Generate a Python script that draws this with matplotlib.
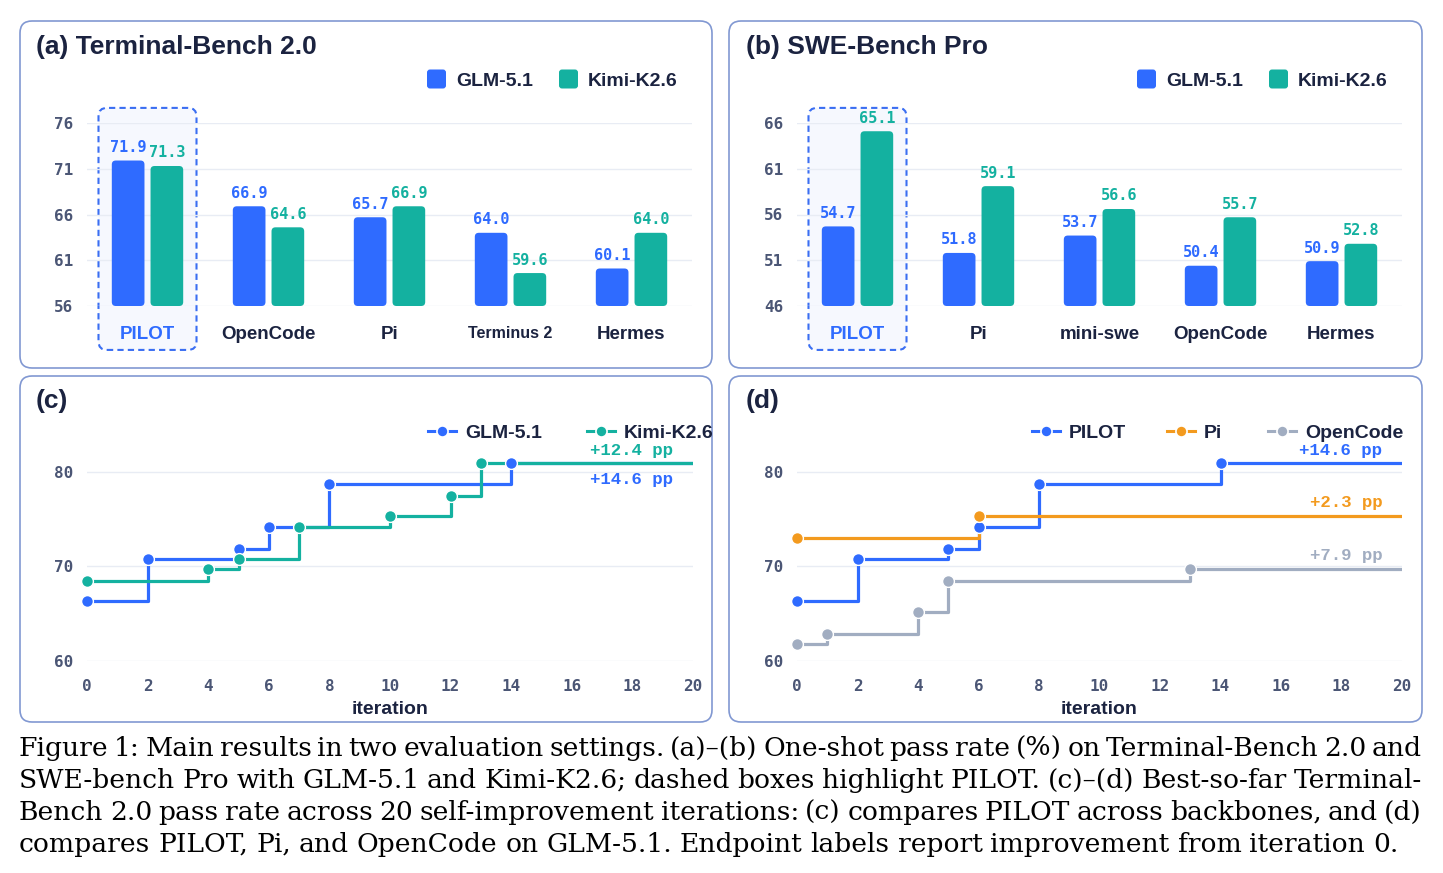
import numpy as np
import matplotlib
matplotlib.use("Agg")
import matplotlib.pyplot as plt
from matplotlib.patches import FancyBboxPatch
from matplotlib.lines import Line2D

# (a) Terminal-Bench 2.0, one-shot pass rate
tb_agents = ["PILOT", "OpenCode", "Pi", "Terminus 2", "Hermes"]
tb_glm = [71.9, 66.9, 65.7, 64.0, 60.1]
tb_kimi = [71.3, 64.6, 66.9, 59.6, 64.0]

# (b) SWE-Bench Pro
swe_agents = ["PILOT", "Pi", "mini-swe", "OpenCode", "Hermes"]
swe_glm = [54.7, 51.8, 53.7, 50.4, 50.9]
swe_kimi = [65.1, 59.1, 56.6, 55.7, 52.8]

# (c)/(d) best-so-far, only the iterations where it improved
n_iter = 20
glm_it = [0, 2, 5, 6, 8, 14]
glm_best = [66.3, 70.8, 71.9, 74.2, 78.7, 80.9]
kimi_it = [0, 4, 5, 7, 10, 12, 13]
kimi_best = [68.5, 69.7, 70.8, 74.2, 75.3, 77.5, 80.9]
pi_it = [0, 6]
pi_best = [73.0, 75.3]
oc_it = [0, 1, 4, 5, 13]
oc_best = [61.8, 62.9, 65.2, 68.5, 69.7]

caption = [
    "Figure 1: Main results in two evaluation settings. (a)–(b) One-shot pass rate (%) on Terminal-Bench 2.0 and",
    "SWE-bench Pro with GLM-5.1 and Kimi-K2.6; dashed boxes highlight PILOT. (c)–(d) Best-so-far Terminal-",
    "Bench 2.0 pass rate across 20 self-improvement iterations: (c) compares PILOT across backbones, and (d)",
    "compares PILOT, Pi, and OpenCode on GLM-5.1. Endpoint labels report improvement from iteration 0.",
]

BLUE = "#2F6BFF"
TEAL = "#14B1A0"
ORANGE = "#F39A1E"
GREY = "#A1ADC1"
DARK = "#1B2340"
TICK = "#4B5675"
GRID = "#E8ECF4"
BORDER = "#8198D2"
SANS = "Liberation Sans"
MONO = "DejaVu Sans Mono"

W, H = 1443, 873
fig = plt.figure(figsize=(W / 100, H / 100), dpi=100)


def rect(l, t, r, b):
    return [l / W, 1 - b / H, (r - l) / W, (b - t) / H]


# background layer in pixel coords (y down)
bg = fig.add_axes([0, 0, 1, 1], zorder=0)
bg.set_xlim(0, W)
bg.set_ylim(H, 0)
bg.axis("off")

for l, t, r, b in [(20, 21, 712, 368), (729, 21, 1422, 368),
                   (20, 376, 712, 722), (729, 376, 1422, 722)]:
    bg.add_patch(FancyBboxPatch((l, t), r - l, b - t,
                                boxstyle="round,pad=0,rounding_size=12",
                                fc="white", ec=BORDER, lw=1.2))


def style_ticks(ax):
    for s in ax.spines.values():
        s.set_visible(False)
    ax.tick_params(length=0, labelsize=11.5, labelcolor=TICK)
    for lab in ax.get_yticklabels() + ax.get_xticklabels():
        lab.set_fontfamily(MONO)
        lab.set_fontweight("bold")
    ax.grid(axis="y", color=GRID, lw=1)
    ax.set_axisbelow(True)


def bar_legend(x, y):
    for name, col, dx in [("GLM-5.1", BLUE, 0), ("Kimi-K2.6", TEAL, 132)]:
        bg.add_patch(FancyBboxPatch((x + dx, y - 9.5), 19, 19,
                                    boxstyle="round,pad=0,rounding_size=3",
                                    fc=col, ec="none"))
        bg.text(x + dx + 29, y + 7, name, fontsize=14, fontweight="bold",
                family=SANS, color=DARK, va="baseline")


def line_legend(entries, y):
    for name, col, hx in entries:
        bg.add_line(Line2D([hx, hx + 14, hx + 28], [y, y, y], color=col, lw=2.2,
                           marker="o", markevery=[1], ms=8, mec="white", mew=1.2))
        bg.text(hx + 37, y + 7, name, fontsize=14, fontweight="bold",
                family=SANS, color=DARK, va="baseline")


def bar_panel(box, cats, glm, kimi, ylo):
    ax = fig.add_axes(rect(*box), zorder=1)
    ax.set_facecolor("none")
    x = np.arange(len(cats))
    ax.set_xlim(-0.5, len(cats) - 0.5)
    ax.set_ylim(ylo, ylo + 20)
    ax.set_yticks(np.arange(ylo, ylo + 21, 5))
    ax.set_xticks(x, cats)
    style_ticks(ax)
    ax.tick_params(axis="y", pad=10)
    ax.tick_params(axis="x", pad=14.5)
    for lab in ax.get_xticklabels():
        lab.set_fontfamily(SANS)
        lab.set_fontsize(13.5 if lab.get_text() != "Terminus 2" else 11.5)
        lab.set_color(DARK)
    ax.get_xticklabels()[0].set_color(BLUE)

    # dashed highlight box around PILOT
    ax.add_patch(FancyBboxPatch((-0.405, ylo - 4.8), 0.81, 26.45,
                                boxstyle="round,pad=0,rounding_size=0.07",
                                mutation_aspect=13.2, fc="#F6F8FE", ec="#3A6EF2",
                                lw=1.5, ls=(0, (3, 2)), clip_on=False, zorder=0.3))

    for vals, col, off in [(glm, BLUE, -0.16), (kimi, TEAL, 0.16)]:
        bars = ax.bar(x + off, np.array(vals) - ylo, bottom=ylo, width=0.27, color=col)
        for p, v in zip(bars, vals):
            p.set_visible(False)
            ax.add_patch(FancyBboxPatch(p.get_xy(), p.get_width(), p.get_height(),
                                        boxstyle="round,pad=0,rounding_size=0.033",
                                        mutation_aspect=13.2, fc=col, ec="none", zorder=2))
            ax.annotate(f"{v:.1f}", (p.get_x() + p.get_width() / 2, v), xytext=(0, 4),
                        textcoords="offset points", ha="center", va="bottom",
                        fontsize=11, fontweight="bold", family=MONO, color=col)
    return ax


def line_panel(box, series):
    ax = fig.add_axes(rect(*box), zorder=1)
    ax.set_facecolor("none")
    ax.set_xlim(0, n_iter)
    ax.set_ylim(60, 82)
    ax.set_yticks([60, 70, 80])
    ax.set_xticks(range(0, n_iter + 1, 2))
    style_ticks(ax)
    ax.tick_params(axis="y", pad=10)
    ax.tick_params(axis="x", pad=13)
    ax.set_xlabel("iteration", fontsize=14, fontweight="bold", family=SANS,
                  color=DARK, labelpad=5)
    for it, best, col, off in series:
        ax.step(it + [n_iter], best + [best[-1]], where="post", color=col, lw=2.3,
                zorder=3)
    for it, best, col, off in series:
        ax.plot(it, best, "o", ms=8.5, mfc=col, mec="white", mew=1, zorder=4,
                clip_on=False)
        ax.annotate(f"+{best[-1] - best[0]:.1f} pp", (19.35, best[-1]),
                    xytext=(0, off), textcoords="offset points", ha="right",
                    va="center", fontsize=12.5, fontweight="bold",
                    family="Liberation Mono", color=col)
    return ax


bar_panel((87, 123, 692, 306), tb_agents, tb_glm, tb_kimi, 56)
bar_panel((797, 123, 1402, 306), swe_agents, swe_glm, swe_kimi, 46)
line_panel((87, 472 - 18.9, 693, 661),
           [(glm_it, glm_best, BLUE, -11.5), (kimi_it, kimi_best, TEAL, 9.5)])
line_panel((797, 472 - 18.9, 1402, 661),
           [(glm_it, glm_best, BLUE, 9.5), (pi_it, pi_best, ORANGE, 10),
            (oc_it, oc_best, GREY, 10)])

for x, y, s in [(36, 54, "(a) Terminal-Bench 2.0"), (746, 54, "(b) SWE-Bench Pro"),
                (36, 408, "(c)"), (746, 408, "(d)")]:
    bg.text(x, y, s, fontsize=19, fontweight="bold", family=SANS, color=DARK,
            va="baseline")

bar_legend(427, 79)
bar_legend(1137, 79)
line_legend([("GLM-5.1", BLUE, 428), ("Kimi-K2.6", TEAL, 587)], 431)
line_legend([("PILOT", BLUE, 1032), ("Pi", ORANGE, 1167), ("OpenCode", GREY, 1268)], 431)

# justified caption
renderer = fig.canvas.get_renderer()
x0, x1 = 19, 1422
fs = 19.5
for k in range(2):
    rows = []
    worst = 0
    for line in caption:
        words = line.split(" ")
        txts = [bg.text(0, 0, w, fontsize=fs, family="DejaVu Serif", va="baseline",
                        color="black") for w in words]
        widths = [t.get_window_extent(renderer).width for t in txts]
        rows.append((txts, widths))
        worst = max(worst, (sum(widths) + 0.22 * fs * 1.389 * (len(words) - 1)) / (x1 - x0))
    if worst <= 1 or k == 1:
        break
    for txts, _ in rows:
        for t in txts:
            t.remove()
    fs = fs / worst

for i, (txts, widths) in enumerate(rows):
    y = 756 + 32 * i
    if i < len(rows) - 1:
        gap = (x1 - x0 - sum(widths)) / (len(widths) - 1)
    else:
        gap = 0.30 * fs * 1.389
    x = x0
    for t, w in zip(txts, widths):
        t.set_position((x, y))
        x += w + gap

fig.savefig("out.png", dpi=100)
